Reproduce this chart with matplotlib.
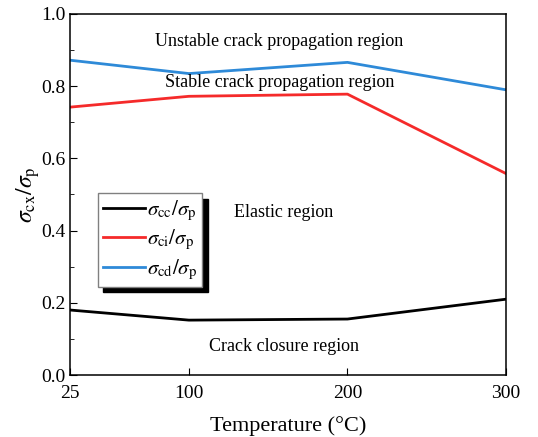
import matplotlib
matplotlib.use('Agg')
import matplotlib.pyplot as plt
from matplotlib.ticker import MultipleLocator

temps = [25, 100, 200, 300]
cc = [0.180, 0.152, 0.155, 0.210]
ci = [0.742, 0.772, 0.778, 0.558]
cd = [0.872, 0.835, 0.866, 0.790]

plt.rcParams['font.family'] = 'Liberation Serif'
plt.rcParams['mathtext.fontset'] = 'stix'
plt.rcParams['font.size'] = 13

fig = plt.figure(figsize=(5.38, 4.37), dpi=100)
ax = fig.add_axes([70/538, 62/437, 436/538, 361/437])

ax.plot(temps, cc, color='black', lw=2, label=r'$\sigma_{\rm cc}/\sigma_{\rm p}$')
ax.plot(temps, ci, color='#f52a2a', lw=2, label=r'$\sigma_{\rm ci}/\sigma_{\rm p}$')
ax.plot(temps, cd, color='#2e8ad8', lw=2, label=r'$\sigma_{\rm cd}/\sigma_{\rm p}$')

ax.set_xlim(25, 300)
ax.set_ylim(0, 1.0)
ax.set_xticks(temps)
ax.yaxis.set_major_locator(MultipleLocator(0.2))
ax.yaxis.set_minor_locator(MultipleLocator(0.1))
ax.yaxis.set_major_formatter(matplotlib.ticker.FormatStrFormatter('%.1f'))
ax.tick_params(direction='in', which='both', top=False, right=False, labelsize=14)
ax.tick_params(axis='x', pad=7)
ax.tick_params(which='major', length=5)
ax.tick_params(which='minor', length=3)
for s in ax.spines.values():
    s.set_linewidth(1.1)

ax.set_xlabel('Temperature (°C)', fontsize=16, labelpad=10)
ax.set_ylabel(r'$\sigma_{\rm cx}/\sigma_{\rm p}$', fontsize=17, labelpad=-1)

ax.text(157, 0.925, 'Unstable crack propagation region', ha='center', va='center')
ax.text(157, 0.81, 'Stable crack propagation region', ha='center', va='center')
ax.text(160, 0.45, 'Elastic region', ha='center', va='center')
ax.text(160, 0.078, 'Crack closure region', ha='center', va='center')

ax.legend(loc='upper left', bbox_to_anchor=(0.064, 0.503), fancybox=False,
          shadow={'color': 'black', 'alpha': 1, 'ox': 4, 'oy': -4}, edgecolor='gray',
          framealpha=1, handlelength=2.0, fontsize=15, borderaxespad=0,
          labelspacing=0.25, handletextpad=0.1, borderpad=0.25)

fig.savefig('out.png', dpi=100)
